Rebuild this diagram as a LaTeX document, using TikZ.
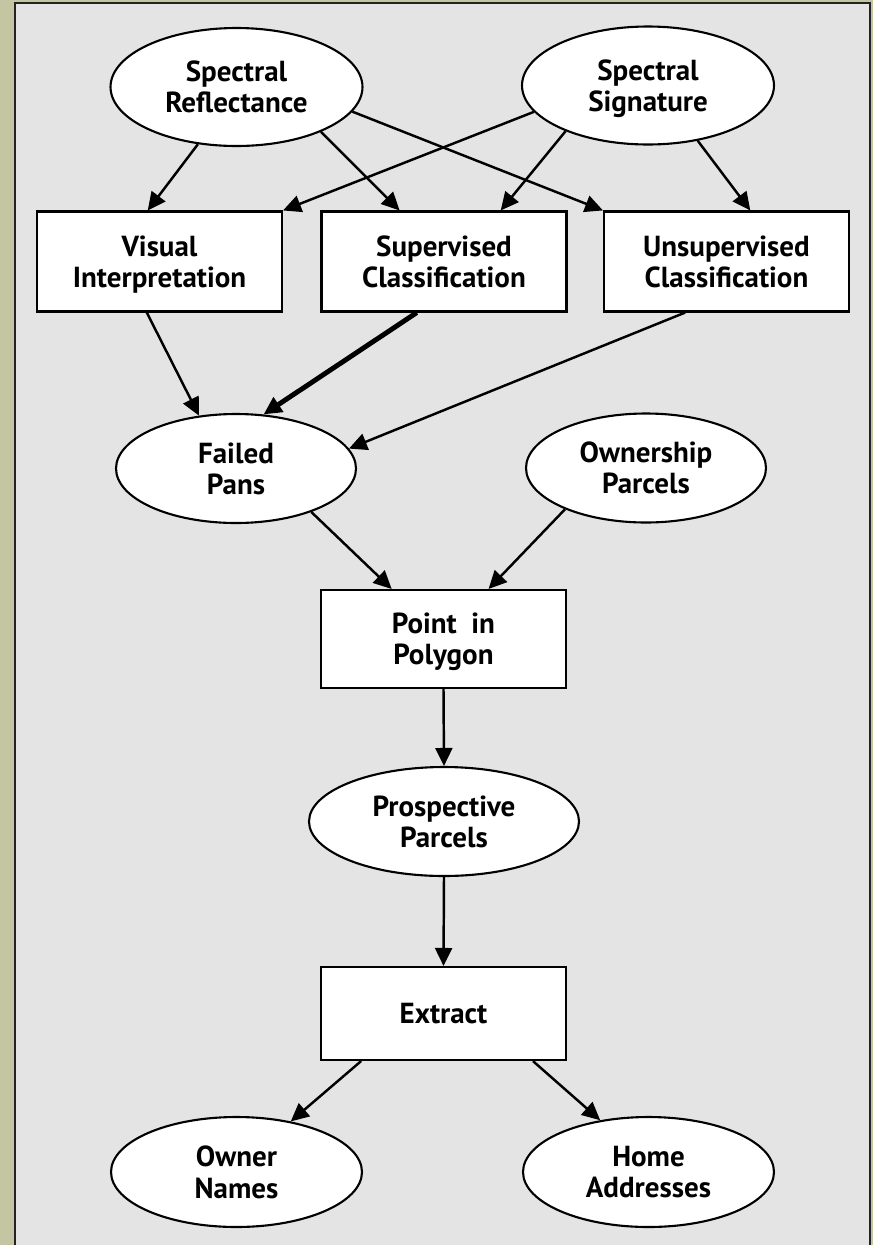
\documentclass[tikz,border=0pt]{standalone}
\usepackage{fontspec}
\setmainfont{PT Sans}
\usepackage{tikz}
\usetikzlibrary{arrows.meta,shapes.geometric}
\definecolor{olivebg}{RGB}{196,198,162}
\definecolor{panelgray}{RGB}{228,228,228}
\definecolor{framedark}{RGB}{35,35,35}

\begin{document}
\begin{tikzpicture}[
  x=0.02cm, y=-0.02cm,
  >={Triangle[length=0.36cm,width=0.34cm]},
  lbl/.style={font=\fontsize{16.5}{17.8}\selectfont\bfseries,align=center,text=black,
    execute at begin node=\rule{0pt}{11.6pt},text depth=0pt},
  box/.style={lbl,draw,line width=1.2pt,fill=white,minimum width=4.9cm,minimum height=2cm,inner sep=0pt},
  oval/.style={lbl,ellipse,draw,line width=1.2pt,fill=white,inner sep=0pt},
  big/.style={oval,minimum width=5.04cm,minimum height=2.36cm},
  mid/.style={oval,minimum width=4.8cm,minimum height=2.18cm},
  low/.style={oval,minimum width=5.02cm,minimum height=2.2cm},
  arrow/.style={->,line width=1.4pt},
  heavy/.style={->,line width=2.8pt}
]
\useasboundingbox (0,0) rectangle (873,1245);
\fill[olivebg] (0,0) rectangle (873,1245);
\fill[panelgray] (15,3) rectangle (870,1245);
\draw[framedark,line width=1.1pt] (15,1245) -- (15,3) -- (870,3) -- (870,1245);

\node[big] (sref) at (236.5,87) {Spectral\\Reflectance};
\node[big] (ssig) at (648,85.5) {Spectral\\Signature};
\node[box] (vis) at (159.5,261.5) {Visual\\Interpretation};
\node[box] (sup) at (444,261.5) {Supervised\\Classification};
\node[box] (uns) at (726.5,261.5) {Unsupervised\\Classification};
\node[mid] (fail) at (236,468.5) {Failed\\Pans};
\node[mid] (own) at (646,468) {Ownership\\Parcels};
\node[box,minimum height=1.96cm] (pip) at (443.5,639) {Point\ \ in\\Polygon};
\node[oval,minimum width=5.4cm,minimum height=2.18cm] (pros) at (444,821.5) {Prospective\\Parcels};
\node[box,minimum height=1.86cm] (ext) at (443.5,1013.5) {Extract};
\node[low] (owner) at (236.5,1172) {Owner\\Names};
\node[low] (home) at (648.5,1172) {Home\\Addresses};

\draw[arrow] (sref.-124) -- (vis.103);
\draw[arrow] (sref.-28) -- (sup.131);
\draw[arrow] (sref.-12) -- (uns.north west);
\draw[arrow] (ssig.-167) -- (vis.north east);
\draw[arrow] (ssig.-151) -- (sup.42);
\draw[arrow] (ssig.-48) -- (uns.65);
\draw[arrow] (vis.-104) -- (fail.125);
\draw[heavy] (sup.-118) -- (fail.63);
\draw[arrow] (uns.-129) -- (fail.10);
\draw[arrow] (fail.-30) -- (pip.136);
\draw[arrow] (own.-153) -- (pip.48);
\draw[arrow] (pip.south) -- (pros.north);
\draw[arrow] (pros.south) -- (ext.north);
\draw[arrow] (ext.-150) -- (owner.43);
\draw[arrow] (ext.-28) -- (home.133);
\end{tikzpicture}
\end{document}
